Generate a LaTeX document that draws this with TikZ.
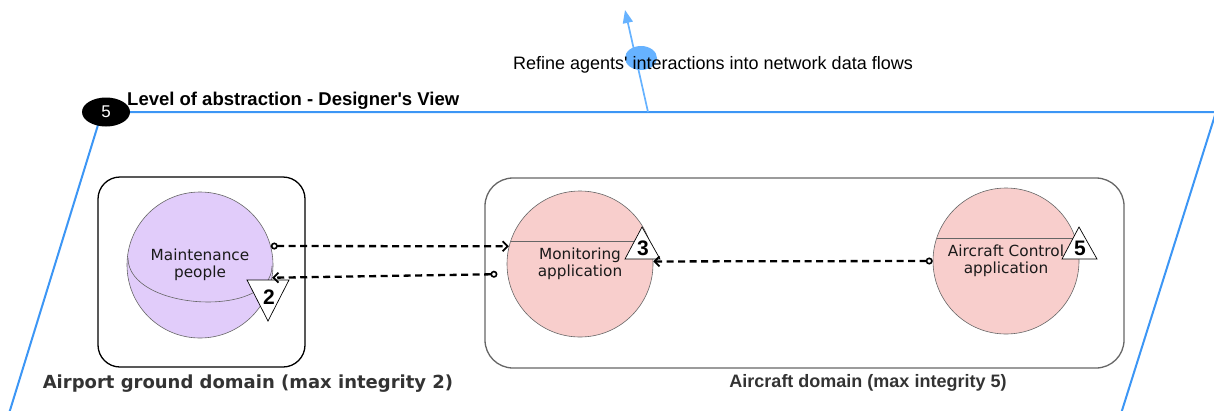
\documentclass[tikz,border=0pt]{standalone}
\usepackage{fontspec}
\setmainfont{Liberation Sans}
\newfontfamily\dejavu{DejaVu Sans}
\usepackage{tikz}
\usetikzlibrary{positioning,arrows.meta,shapes.geometric}
\usepackage{xcolor}
\definecolor{frameblue}{HTML}{3C96F5}
\definecolor{flowblue}{HTML}{66B2FF}
\definecolor{agentpurple}{HTML}{E1CCFA}
\definecolor{apppink}{HTML}{F8CECC}
\definecolor{ink}{HTML}{1A1A1A}
\definecolor{domaingray}{HTML}{333333}
\definecolor{edge}{HTML}{666666}

\begin{document}
\begin{tikzpicture}[x=1pt, y=-1pt,
    agent/.style={circle, draw=edge, line width=0.6pt, minimum size=146pt, inner sep=0pt,
      align=center, text=ink, font=\dejavu\fontsize{15.3}{17}\selectfont},
    domainbox/.style={draw, rounded corners=22pt, line width=1.3pt},
    flow/.style={dash pattern=on 7pt off 4.5pt, line width=2.3pt,
      {Circle[open,length=7pt,width=7pt,line width=1.6pt]}-{Straight Barb[length=5pt,width=10pt,line width=1.8pt]}},
    level/.style={draw=black, line width=0.7pt, fill=white},
    levelnum/.style={inner sep=0pt, font=\bfseries\fontsize{21}{21}\selectfont}]
    \useasboundingbox (0,0) rectangle (1214,410);
    % level frame (parallelogram)
    \draw[frameblue, line width=2pt] (7,420) -- (102,112) -- (1216,112) -- (1119,420);
    \node[ellipse, fill=black, minimum width=48pt, minimum height=29pt, inner sep=0pt,
      text=white, font=\fontsize{17}{17}\selectfont] (lvlnum) at (106,112) {5};
    \node[anchor=base west, inner sep=0pt, font=\bfseries\fontsize{18.5}{18.5}\selectfont]
      (lvltitle) at (127,105) {Level of abstraction - Designer\textquotesingle s View};
    % refinement arrow
    \coordinate (flowfoot) at (648,112);
    \coordinate (flowtop) at (625,10);
    \draw[flowblue, line width=1.7pt, -{Triangle[length=13pt,width=10pt]}] (flowfoot) -- (flowtop);
    \node[ellipse, fill=flowblue, minimum width=32pt, minimum height=24pt, inner sep=0pt]
      (flowknob) at (641,58) {};
    \node[anchor=base, inner sep=0pt, font=\fontsize{18}{18}\selectfont] (flowlabel) at (713,69)
      {Refine agents\textquotesingle{} interactions into network data flows};
    % domains
    \node[domainbox, minimum width=207pt, minimum height=190pt] (grounddom) at (201.5,272) {};
    \node[domainbox, draw=edge, rounded corners=28pt, minimum width=639pt, minimum height=190pt]
      (aircraftdom) at (804.5,273) {};
    \node[text=domaingray, font=\dejavu\bfseries\fontsize{18}{18}\selectfont] (groundlabel)
      at (248,384) {Airport ground domain (max integrity 2)};
    \node[text=domaingray, font=\bfseries\fontsize{18}{18}\selectfont] (aircraftlabel)
      at (868,383) {Aircraft domain (max integrity 5)};
    % agents
    \node[agent, fill=agentpurple] (maint) at (200,265) {Maintenance\\people};
    \draw[edge, line width=0.6pt] (128,258) .. controls (128,311) and (272,319) .. (272,266);
    \node[agent, fill=apppink] (monitor) at (580,264) {Monitoring\\application};
    \draw[edge, line width=0.6pt] (511,241) -- (649,241);
    \node[agent, fill=apppink] (acctrl) at (1006,261) {Aircraft Control\\application};
    \draw[edge, line width=0.6pt] (937,238) -- (1075,238);
    % integrity levels
    \draw[level] (247,280) -- (289,280) -- (268,321) -- cycle;
    \node[levelnum] (maintlvl) at (269,297) {2};
    \draw[level] (625,259) -- (660,259) -- (642,227) -- cycle;
    \node[levelnum] (monitorlvl) at (643,248) {3};
    \draw[level] (1062,259) -- (1097,259) -- (1079,227) -- cycle;
    \node[levelnum] (acctrllvl) at (1080,248) {5};
    % data flows
    \draw[flow] (maint.15) -- (monitor.166);
    \draw[flow] ([xshift=-10pt]monitor.188) -- (maint.-10);
    \draw[flow] (acctrl.west) -- (monitor.2);
\end{tikzpicture}
\end{document}
